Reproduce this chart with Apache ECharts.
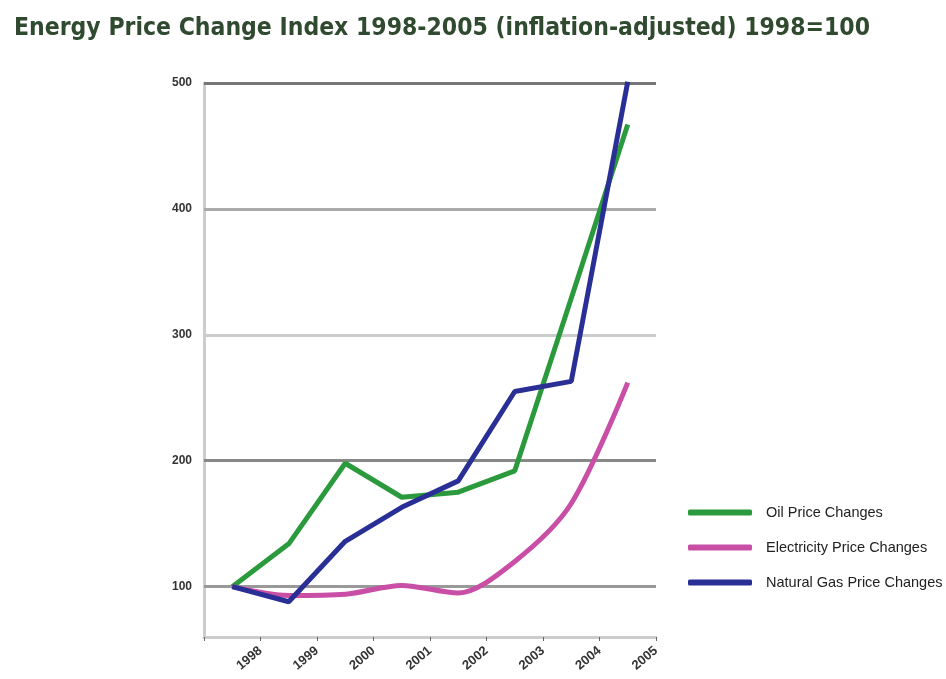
<!DOCTYPE html>
<html>
<head>
<meta charset="utf-8">
<script src="https://cdn.jsdelivr.net/npm/echarts@6/dist/echarts.min.js"></script>
<style>html,body{margin:0;padding:0;background:#fff}#c{width:946px;height:679px}</style>
</head>
<body>
<div id="c"></div>
<script>
const years = ['1998','1999','2000','2001','2002','2003','2004','2005'];
const tickLabels = ['', '1998','1999','2000','2001','2002','2003','2004','2005'];
const oil = [100, 134, 198, 171, 175, 192, 329, 467];
const electricity = [100, 93, 94, 101, 95, 120, 166, 262];
const naturalGas = [100, 88, 136, 163, 184, 255, 263, 501];
const gridValues = [100, 200, 300, 400, 500];
const gridColors = ['#999', '#888', '#ccc', '#aaa', '#777'];

const chart = echarts.init(document.getElementById('c'));
chart.setOption({
  animation: false,
  backgroundColor: '#fff',
  title: {
    text: 'Energy Price Change Index 1998-2005 (inflation-adjusted) 1998=100',
    left: 9, top: 11,
    textStyle: { fontFamily: '"DejaVu Sans Condensed", "Liberation Sans Narrow", "Liberation Sans", sans-serif', fontWeight: 'bold', fontSize: 24.5, color: '#2f4a2f' }
  },
  legend: {
    orient: 'vertical', left: 683, top: 500,
    itemWidth: 64, itemHeight: 6, itemGap: 20, icon: 'roundRect',
    textStyle: { fontFamily: 'Liberation Sans', fontSize: 14.5, color: '#222', padding: [0, 0, 0, 9] },
    data: ['Oil Price Changes', 'Electricity Price Changes', 'Natural Gas Price Changes']
  },
  grid: { left: 204, right: 290, top: 83, bottom: 42 },
  xAxis: [
    { type: 'category', data: years, boundaryGap: true, show: false },
    {
      type: 'category', data: tickLabels, boundaryGap: false, position: 'bottom',
      axisLine: { lineStyle: { color: '#ccc', width: 3 } },
      axisTick: { show: true, length: 4, lineStyle: { color: '#666' } },
      axisLabel: { interval: 0, rotate: 40, margin: 12, fontFamily: 'Liberation Sans', fontWeight: 'bold', fontSize: 13, color: '#333' }
    }
  ],
  yAxis: {
    type: 'value', min: 60, max: 500, interval: 20,
    axisLine: { show: true, lineStyle: { color: '#ccc', width: 3 } },
    axisTick: { show: false },
    splitLine: { show: false },
    axisLabel: {
      margin: 12, fontFamily: 'Liberation Sans', fontWeight: 'bold', fontSize: 12, color: '#333',
      formatter: v => (v % 100 === 0 ? String(v) : '')
    }
  },
  series: [
    {
      name: 'Oil Price Changes', type: 'line', data: oil, xAxisIndex: 0,
      showSymbol: false, symbol: 'none', color: '#2a9a3c',
      lineStyle: { width: 5, color: '#2a9a3c' }, z: 3,
      markLine: {
        silent: true, symbol: 'none', label: { show: false }, z: 1,
        data: gridValues.map((v, i) => ({ yAxis: v, lineStyle: { color: gridColors[i], width: 3, type: 'solid' } }))
      }
    },
    {
      name: 'Electricity Price Changes', type: 'line', data: electricity, xAxisIndex: 0,
      showSymbol: false, symbol: 'none', smooth: 0.3, color: '#c94fa6',
      lineStyle: { width: 5, color: '#c94fa6' }, z: 4
    },
    {
      name: 'Natural Gas Price Changes', type: 'line', data: naturalGas, xAxisIndex: 0,
      showSymbol: false, symbol: 'none', color: '#2a2f96',
      lineStyle: { width: 5, color: '#2a2f96' }, z: 5
    }
  ]
});
</script>
</body>
</html>
